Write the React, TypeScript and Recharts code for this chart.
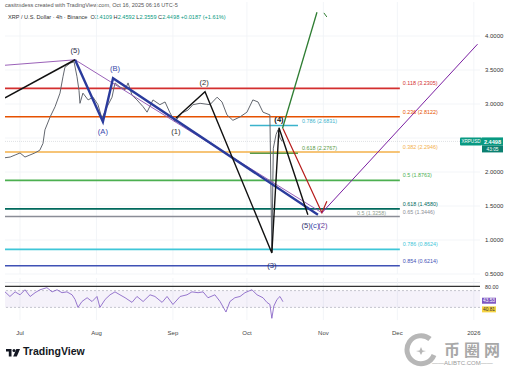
import { ComposedChart, Line, XAxis, YAxis, CartesianGrid, ReferenceLine, ReferenceArea, Scatter } from 'recharts'

const FONT = '"Liberation Sans", Arial, sans-serif'

// x values are days since Jul 1, 2025
const X_DOMAIN: [number, number] = [-6.1, 186.5]
const MONTH_DAYS = [0, 31, 62, 92, 123, 153, 184]
const MONTH_LABELS = ['Jul', 'Aug', 'Sep', 'Oct', 'Nov', 'Dec', '2026']
const PRICE_TICKS = [0.5, 1, 1.5, 2, 2.5, 3, 3.5, 4]
const LAST_PRICE = 2.4498

// XRP price (rough 4h path)
const PRICE: [number, number][] = [
  [-6.1, 2.21], [-4, 2.22], [-2, 2.25], [0, 2.28], [2, 2.22], [4, 2.25], [6, 2.28], [8, 2.32],
  [9.3, 2.42], [10.1, 2.62], [12.2, 2.81], [14.2, 2.96], [16.2, 3.16], [17.4, 3.4], [18.2, 3.54],
  [20.3, 3.6], [21.9, 3.62], [23.1, 3.4], [23.9, 3.2], [24.3, 3.01], [25.5, 3.16], [27.6, 3.06],
  [29.6, 3.1], [31.6, 2.99], [33.2, 2.79], [35.3, 2.96], [37.3, 3.1], [38.5, 3.31], [40.5, 3.25],
  [42.6, 3.21], [43.8, 3.31], [45.4, 3.13], [47.4, 3.06], [49.9, 2.96], [51.5, 2.88], [53.9, 3.06],
  [56.7, 2.99], [58.8, 3.03], [60.8, 2.87], [62.8, 2.74], [65.7, 2.87], [68.1, 2.91], [70.1, 2.99],
  [73, 3.01], [77, 2.99], [79.9, 3.1], [81.9, 3.03], [83.9, 2.84], [86.3, 2.76], [89.2, 2.81],
  [92, 2.88], [94.4, 3.06], [96.5, 3.03], [98.5, 2.88], [101.3, 2.84], [102.1, 0.82], [102.7, 2.35],
  [103.8, 2.55], [104.6, 2.62], [105.4, 2.5], [106.3, 2.4498],
]

// RSI 14
const RSI: [number, number][] = [
  [-6.1, 67], [-4.1, 56], [-2, 67], [0, 60], [2, 72], [4.1, 56], [6.1, 65], [8.1, 72], [10.9, 77],
  [13, 67], [15, 72], [17, 65], [19, 67], [21.1, 60], [22.3, 49], [23.5, 30], [25.1, 44], [27.2, 53],
  [29.2, 44], [31.2, 56], [32.4, 30], [34.5, 49], [36.5, 60], [38.5, 67], [40.5, 60], [42.6, 53],
  [45.4, 42], [47.4, 56], [49.9, 44], [52.7, 60], [54.7, 56], [57.6, 42], [59.6, 56], [62, 37],
  [64.9, 56], [67.7, 60], [69.7, 67], [72.2, 65], [74.2, 67], [76.2, 53], [79, 60], [81.1, 44],
  [83.5, 19], [85.1, 44], [87.1, 53], [89.2, 56], [91.2, 65], [94, 72], [96.1, 60], [98.5, 53],
  [100.1, 42], [101.3, 37], [102.1, 4], [102.9, 33], [104.2, 49], [105.4, 56], [106.6, 43.53],
]
const RSI_TICKS = [80, 43.53, 40.81]

// fib retracement levels
const FIB_FROM = -6.1
const FIB_TO = 154
const FIB_RATIOS = ['0.118', '0.236', '0.382', '0.5', '0.618', '0.65', '0.786', '0.854']
const FIB_PRICES = [3.2305, 2.8122, 2.2946, 1.8763, 1.458, 1.3446, 0.8624, 0.6214]
const FIB_COLORS = ['#d32f2f', '#e65100', '#f3b04a', '#4caf50', '#00695c', '#8a8d96', '#3fc6d8', '#3f51b5']

// short fib on the last leg
const SHORT_RATIOS = ['0.786', '0.618', '0.5']
const SHORT_PRICES = [2.6831, 2.2767, 1.3258]
const SHORT_COLORS = ['#3bb3cc', '#5a9a48', '#8fa08f']
const SHORT_LABEL_X = [114.3, 114.3, 136.6]

// wave drawings
const LEFT_BLACK: [number, number][] = [[-6.1, 3.09], [22.3, 3.65]]
const PURPLE_CHANNEL: [number, number][] = [[-6.1, 3.57], [22.3, 3.65], [122.4, 1.4]]
const BLUE_ABC: [number, number][] = [[22.3, 3.65], [33.6, 2.74], [37.7, 3.38], [120.8, 1.37]]
const BLACK_IMPULSE: [number, number][] = [[63.2, 2.79], [75, 3.18], [102.1, 0.81], [105, 2.65], [116.7, 1.37]]
const RED_PATH: [number, number][] = [[106.6, 2.64], [122.4, 1.4], [124.4, 1.57]]
const GREEN_PATH: [number, number][] = [[106.4, 2.64], [120.4, 4.35]]
const GREEN_TICK: [number, number][] = [[123.2, 4.34], [124.4, 4.28]]
const PURPLE_TARGET: [number, number][] = [[122.4, 1.4], [185.5, 3.88]]

const WAVE_LABELS = [
  { d: 22.3, p: 3.79, t: '(5)', c: '#2b2f4a' },
  { d: 33.6, p: 2.6, t: '(A)', c: '#3949ab' },
  { d: 38.5, p: 3.52, t: '(B)', c: '#3949ab' },
  { d: 63.2, p: 2.59, t: '(1)', c: '#333333' },
  { d: 74.6, p: 3.32, t: '(2)', c: '#333333' },
  { d: 105, p: 2.77, t: '(4)', c: '#111111' },
  { d: 102.1, p: 0.63, t: '(3)', c: '#2b2f6a' },
  { d: 116, p: 1.21, t: '(5)', c: '#2b2f6a' },
  { d: 119.6, p: 1.21, t: '(c)', c: '#3949ab' },
  { d: 122.8, p: 1.21, t: '(2)', c: '#6a3a9a' },
]

const pts = (a: [number, number][]) => a.map(([d, p]) => ({ d, p }))

const fibLabels = FIB_RATIOS.map((r, i) => ({ d: FIB_TO + 1.2, p: FIB_PRICES[i], t: `${r} (${FIB_PRICES[i].toFixed(4)})`, c: FIB_COLORS[i] }))
const shortLabels = SHORT_RATIOS.map((r, i) => ({ d: SHORT_LABEL_X[i], p: SHORT_PRICES[i], t: `${r} (${SHORT_PRICES[i].toFixed(4)})`, c: SHORT_COLORS[i] }))

function WaveText(props: any) {
  const { cx, cy, payload } = props
  return (
    <text x={cx} y={cy} fill={payload.c} fontSize={7.6} fontFamily={FONT} textAnchor="middle" dominantBaseline="central"
      fontWeight={payload.t === '(4)' ? 700 : 400}>{payload.t}</text>
  )
}

function FibText(props: any) {
  const { cx, cy, payload } = props
  return <text x={cx} y={cy - 3} fill={payload.c} fontSize={5.4} fontFamily={FONT}>{payload.t}</text>
}

function PriceTick({ y, payload }: any) {
  const v = payload.value
  if (v === LAST_PRICE) {
    return (
      <g fontFamily={FONT}>
        <rect x={460} y={y - 4} width={22} height={8} fill="#089981" rx={1} />
        <text x={471} y={y + 0.3} fill="#fff" fontSize={4.6} textAnchor="middle" dominantBaseline="central">XRPUSD</text>
        <rect x={482} y={y - 4} width={21} height={8} fill="#089981" />
        <text x={492.5} y={y + 0.3} fill="#fff" fontSize={5.6} fontWeight={700} textAnchor="middle" dominantBaseline="central">{v.toFixed(4)}</text>
        <rect x={482} y={y + 4} width={21} height={7} fill="#0b8070" />
        <text x={492.5} y={y + 7.6} fill="#fff" fontSize={4.8} textAnchor="middle" dominantBaseline="central">43:05</text>
      </g>
    )
  }
  // 2.5000 sits under the last-price box
  if (Math.abs(v - LAST_PRICE) < 0.1) return <g />
  return <text x={485} y={y} fill="#333" fontSize={6} fontFamily={FONT} dominantBaseline="central">{v.toFixed(4)}</text>
}

function RsiTick({ y, payload }: any) {
  const v = payload.value
  if (v === 80) return <text x={485} y={y + 1} fill="#333" fontSize={5.4} fontFamily={FONT} dominantBaseline="central">80.00</text>
  const purple = v === 43.53
  const yy = purple ? y - 1 : y + 6.5 // labels pushed apart
  return (
    <g fontFamily={FONT}>
      <rect x={482} y={yy - 3} width={14} height={6} fill={purple ? '#7e57c2' : '#f5d342'} />
      <text x={489} y={yy + 0.2} fill={purple ? '#fff' : '#333'} fontSize={4.8} textAnchor="middle" dominantBaseline="central">{v.toFixed(2)}</text>
    </g>
  )
}

function TVLogo() {
  return (
    <svg width={15} height={8} viewBox="0 0 15 8" style={{ position: 'absolute', left: 6, top: 349 }}>
      <path d="M0 0H5.5V7.5H2.8V2.6H0Z" fill="#131722" />
      <circle cx={8} cy={1.6} r={1.5} fill="#131722" />
      <path d="M10.3 0H14L10.8 7.5H7.2Z" fill="#131722" />
    </svg>
  )
}

export default function App() {
  return (
    <div style={{ position: 'absolute', left: 0, top: 0, width: 512, height: 367, background: '#fff', fontFamily: FONT, overflow: 'hidden' }}>
      <div style={{ position: 'absolute', left: 5, top: 2, fontSize: 5.6, color: '#555', whiteSpace: 'nowrap' }}>
        casitradess created with TradingView.com, Oct 16, 2025 06:16 UTC-5
      </div>
      <div style={{ position: 'absolute', left: 8, top: 14, fontSize: 5.6, color: '#333', whiteSpace: 'nowrap' }}>
        XRP / U.S. Dollar · 4h · Binance&nbsp;&nbsp;O<span style={{ color: '#089981' }}>2.4109</span> H<span style={{ color: '#089981' }}>2.4592</span> L<span style={{ color: '#089981' }}>2.3559</span> C<span style={{ color: '#089981' }}>2.4498 +0.0187 (+1.61%)</span>
      </div>

      <div style={{ position: 'absolute', left: 0, top: 0 }}>
        <ComposedChart width={512} height={276} margin={{ top: 2, right: 0, bottom: 2, left: 5 }}>
          <CartesianGrid stroke="#f0f2f6" strokeWidth={0.8} horizontalValues={PRICE_TICKS} verticalValues={MONTH_DAYS} />
          <XAxis dataKey="d" type="number" domain={X_DOMAIN} allowDataOverflow ticks={MONTH_DAYS} hide />
          <YAxis orientation="right" width={32} type="number" domain={[0.5, 4.5]} allowDataOverflow
            ticks={[...PRICE_TICKS, LAST_PRICE]} interval={0} axisLine={false} tickLine={false} tick={<PriceTick />} />
          <ReferenceLine y={LAST_PRICE} stroke="#c9ccd3" strokeWidth={0.6} strokeDasharray="1 1" />
          {FIB_PRICES.map((p, i) => (
            <ReferenceLine key={FIB_RATIOS[i] + p} segment={[{ x: FIB_FROM, y: p }, { x: FIB_TO, y: p }]} stroke={FIB_COLORS[i]} strokeWidth={1.6} />
          ))}
          {SHORT_PRICES.slice(0, 2).map((p, i) => (
            <ReferenceLine key={'s' + p} segment={[{ x: 93.2, y: p }, { x: 112.7, y: p }]} stroke={SHORT_COLORS[i]} strokeWidth={1.4} />
          ))}
          <Line data={pts(PRICE)} dataKey="p" stroke="#63676f" strokeWidth={1} dot={false} isAnimationActive={false} />
          <Line data={pts(PURPLE_CHANNEL)} dataKey="p" stroke="#8e4fb0" strokeWidth={0.9} dot={false} isAnimationActive={false} />
          <Line data={pts(BLUE_ABC)} dataKey="p" stroke="#2a3b9c" strokeWidth={2.4} dot={false} isAnimationActive={false} />
          <Line data={pts(LEFT_BLACK)} dataKey="p" stroke="#111" strokeWidth={1.6} dot={false} isAnimationActive={false} />
          <Line data={pts(BLACK_IMPULSE)} dataKey="p" stroke="#111" strokeWidth={1.4} dot={false} isAnimationActive={false} />
          <Line data={pts(RED_PATH)} dataKey="p" stroke="#b71c1c" strokeWidth={1.2} dot={false} isAnimationActive={false} />
          <Line data={pts(GREEN_PATH)} dataKey="p" stroke="#2e7d32" strokeWidth={1.3} dot={false} isAnimationActive={false} />
          <Line data={pts(GREEN_TICK)} dataKey="p" stroke="#2e7d32" strokeWidth={1} dot={false} isAnimationActive={false} />
          <Line data={pts(PURPLE_TARGET)} dataKey="p" stroke="#7b1fa2" strokeWidth={1} dot={false} isAnimationActive={false} />
          <Scatter data={fibLabels} dataKey="p" shape={FibText} isAnimationActive={false} />
          <Scatter data={shortLabels} dataKey="p" shape={FibText} isAnimationActive={false} />
          <Scatter data={WAVE_LABELS} dataKey="p" shape={WaveText} isAnimationActive={false} />
        </ComposedChart>
      </div>

      <div style={{ position: 'absolute', left: 5, top: 282, width: 475, height: 0, borderTop: '1px solid #e6e8ee' }} />

      <div style={{ position: 'absolute', left: 0, top: 276 }}>
        <ComposedChart width={512} height={62} margin={{ top: 2, right: 0, bottom: 0, left: 5 }}>
          <CartesianGrid stroke="#f0f2f6" strokeWidth={0.8} horizontal={false} verticalValues={MONTH_DAYS} />
          <XAxis dataKey="d" type="number" domain={X_DOMAIN} allowDataOverflow ticks={MONTH_DAYS} interval={0} height={18}
            axisLine={false} tickLine={false} tickFormatter={(v: number) => MONTH_LABELS[MONTH_DAYS.indexOf(v)]}
            tick={{ fontSize: 6, fill: '#444', fontFamily: FONT, dy: 3 }} />
          <YAxis orientation="right" width={32} type="number" domain={[0, 100]} allowDataOverflow ticks={RSI_TICKS} interval={0}
            axisLine={false} tickLine={false} tick={<RsiTick />} />
          <ReferenceArea y1={30} y2={70} fill="#7e57c2" fillOpacity={0.08} stroke="none" />
          <ReferenceLine y={70} stroke="#a0a3ad" strokeWidth={0.6} strokeDasharray="2 2" />
          <ReferenceLine y={30} stroke="#a0a3ad" strokeWidth={0.6} strokeDasharray="2 2" />
          <ReferenceLine y={80} stroke="#333" strokeWidth={1.2} />
          <Line data={pts(RSI)} dataKey="p" stroke="#7e57c2" strokeWidth={0.8} dot={false} isAnimationActive={false} />
        </ComposedChart>
      </div>

      <TVLogo />
      <div style={{ position: 'absolute', left: 23, top: 345, fontSize: 10.5, fontWeight: 600, color: '#131722', whiteSpace: 'nowrap' }}>TradingView</div>

      <svg width={34} height={34} style={{ position: 'absolute', left: 404, top: 333, opacity: 0.75 }}>
        <path d="M26 6 A14 14 0 1 0 30 22" fill="none" stroke="#a0a0a0" strokeWidth={5} />
        <path d="M17 14 L18.5 17.5 L22 18 L18.5 19 L17 22 L15.5 19 L12 18 L15.5 17.5 Z" fill="#a0a0a0" />
      </svg>
      <div style={{ position: 'absolute', left: 444, top: 341, height: 16, fontSize: 16, fontWeight: 700, color: '#9a9a9a', opacity: 0.85, fontFamily: '"Noto Sans CJK SC", sans-serif', whiteSpace: 'nowrap', letterSpacing: 4, lineHeight: '16px' }}>币圈网</div>
      <div style={{ position: 'absolute', left: 432, top: 360, fontSize: 6, lineHeight: '7px', color: '#9a9a9a', whiteSpace: 'nowrap' }}>——ALIBTC.COM——</div>
    </div>
  )
}
